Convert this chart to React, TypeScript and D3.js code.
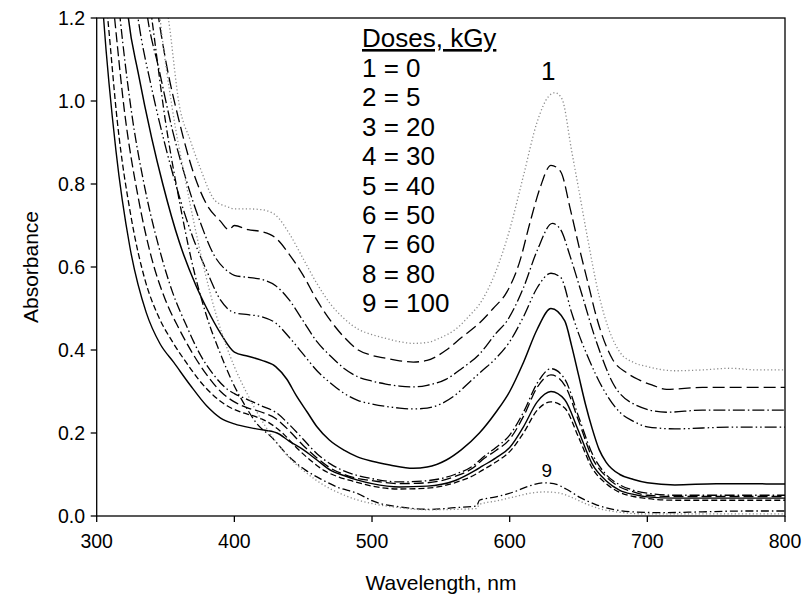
import React from "react";
import * as d3 from "d3";

type Pt = [number, number];

// Wavelength (nm) vs absorbance
const trace01: Pt[] = [[345,1.32],[352,1.2],[360,0.99],[368,0.905],[375,0.84],[386,0.76],[395,0.745],[400,0.74],[410,0.74],[420,0.738],[430,0.725],[440,0.68],[450,0.62],[460,0.56],[470,0.51],[480,0.475],[490,0.45],[500,0.437],[510,0.428],[520,0.42],[530,0.416],[540,0.418],[550,0.43],[560,0.448],[570,0.48],[580,0.52],[590,0.59],[600,0.69],[610,0.82],[620,0.95],[628,1.01],[633,1.02],[638,1.005],[645,0.88],[650,0.79],[656,0.68],[665,0.53],[672,0.45],[680,0.395],[690,0.37],[700,0.36],[720,0.35],[740,0.352],[760,0.356],[780,0.352],[800,0.352]];
const trace02: Pt[] = [[341,1.3],[345,1.2],[350,1.1],[360,0.95],[370,0.83],[380,0.75],[390,0.71],[396,0.69],[400,0.7],[410,0.69],[420,0.685],[430,0.67],[440,0.63],[450,0.58],[460,0.52],[470,0.47],[480,0.43],[490,0.4],[500,0.387],[510,0.38],[520,0.374],[530,0.371],[540,0.375],[554,0.4],[565,0.43],[578,0.465],[588,0.5],[598,0.54],[607,0.61],[615,0.71],[622,0.79],[630,0.845],[637,0.83],[644,0.74],[651,0.64],[657,0.56],[663,0.48],[675,0.376],[685,0.345],[694,0.328],[704,0.315],[714,0.305],[740,0.31],[770,0.31],[800,0.31]];
const trace03: Pt[] = [[333,1.3],[337,1.2],[345,1.08],[355,0.93],[365,0.81],[375,0.71],[385,0.63],[395,0.59],[400,0.58],[410,0.575],[420,0.57],[430,0.555],[440,0.52],[450,0.47],[460,0.42],[470,0.385],[480,0.355],[490,0.335],[500,0.325],[510,0.318],[520,0.313],[530,0.311],[540,0.315],[554,0.33],[565,0.355],[578,0.39],[590,0.44],[598,0.47],[610,0.55],[620,0.64],[631,0.705],[637,0.69],[644,0.625],[651,0.55],[663,0.42],[675,0.32],[690,0.27],[714,0.25],[740,0.255],[770,0.255],[800,0.255]];
const trace04: Pt[] = [[326,1.3],[330,1.2],[340,1.03],[350,0.89],[360,0.77],[370,0.67],[380,0.59],[390,0.52],[400,0.49],[410,0.485],[420,0.48],[430,0.465],[440,0.43],[450,0.39],[460,0.35],[470,0.32],[480,0.295],[490,0.278],[500,0.27],[510,0.264],[520,0.26],[530,0.258],[540,0.26],[550,0.27],[560,0.29],[570,0.32],[580,0.35],[590,0.38],[600,0.42],[610,0.48],[620,0.55],[630,0.585],[637,0.575],[645,0.49],[650,0.44],[656,0.39],[669,0.3],[680,0.25],[690,0.228],[700,0.215],[720,0.21],[760,0.214],[800,0.214]];
const trace05: Pt[] = [[320,1.3],[323,1.2],[330,1.07],[340,0.91],[348,0.8],[360,0.66],[372,0.556],[380,0.5],[390,0.44],[400,0.395],[410,0.385],[420,0.375],[430,0.36],[438,0.33],[445,0.29],[453,0.25],[460,0.215],[469,0.183],[480,0.158],[489,0.143],[500,0.132],[513,0.123],[530,0.115],[540,0.118],[554,0.135],[565,0.16],[578,0.2],[590,0.25],[600,0.3],[610,0.37],[620,0.45],[630,0.5],[640,0.47],[645,0.41],[650,0.34],[655,0.27],[660,0.21],[665,0.16],[670,0.13],[680,0.1],[690,0.088],[700,0.08],[720,0.075],[750,0.078],[800,0.077]];
const trace06: Pt[] = [[314,1.3],[317,1.2],[325,0.98],[335,0.79],[345,0.65],[355,0.54],[365,0.46],[375,0.39],[385,0.34],[395,0.305],[400,0.295],[410,0.28],[420,0.265],[430,0.25],[440,0.22],[450,0.185],[460,0.15],[470,0.125],[480,0.108],[490,0.097],[500,0.09],[520,0.082],[540,0.085],[560,0.1],[575,0.125],[580,0.14],[590,0.165],[600,0.195],[610,0.25],[620,0.32],[630,0.355],[640,0.33],[650,0.24],[660,0.15],[670,0.1],[680,0.075],[690,0.062],[700,0.055],[720,0.05],[800,0.05]];
const trace07: Pt[] = [[310,1.3],[313,1.2],[320,0.98],[330,0.77],[340,0.62],[350,0.52],[360,0.45],[370,0.39],[380,0.34],[390,0.3],[400,0.275],[410,0.26],[420,0.25],[430,0.235],[440,0.205],[450,0.17],[460,0.14],[470,0.115],[480,0.1],[490,0.09],[500,0.085],[520,0.078],[540,0.08],[560,0.095],[575,0.12],[580,0.135],[590,0.158],[600,0.185],[610,0.24],[620,0.31],[630,0.34],[640,0.315],[650,0.23],[660,0.14],[670,0.095],[680,0.07],[690,0.058],[700,0.05],[720,0.047],[800,0.047]];
const trace08: Pt[] = [[302,1.35],[305,1.2],[314,0.88],[324,0.65],[336,0.49],[346,0.415],[356,0.37],[368,0.315],[380,0.265],[390,0.236],[400,0.222],[416,0.21],[431,0.2],[440,0.18],[450,0.16],[460,0.135],[470,0.11],[480,0.097],[489,0.087],[500,0.078],[520,0.07],[540,0.072],[560,0.085],[575,0.11],[580,0.12],[590,0.14],[600,0.165],[610,0.215],[620,0.275],[630,0.3],[640,0.28],[650,0.205],[660,0.125],[670,0.085],[680,0.062],[690,0.052],[700,0.046],[720,0.043],[800,0.043]];
const trace09: Pt[] = [[305,1.3],[308,1.2],[315,0.95],[325,0.72],[335,0.57],[345,0.48],[355,0.42],[365,0.37],[375,0.325],[385,0.29],[395,0.265],[405,0.25],[415,0.24],[425,0.225],[435,0.2],[445,0.165],[455,0.135],[465,0.11],[475,0.095],[485,0.085],[500,0.072],[520,0.065],[540,0.067],[560,0.08],[575,0.1],[580,0.11],[590,0.13],[600,0.155],[610,0.2],[620,0.255],[630,0.275],[640,0.26],[650,0.19],[660,0.115],[670,0.078],[680,0.057],[690,0.047],[700,0.042],[720,0.038],[800,0.038]];
const trace10: Pt[] = [[336,1.3],[340,1.2],[350,0.95],[360,0.76],[370,0.6],[380,0.48],[390,0.39],[399,0.32],[408,0.265],[416,0.224],[427,0.19],[440,0.142],[452,0.11],[464,0.087],[476,0.068],[489,0.055],[500,0.037],[506,0.03],[520,0.022],[542,0.016],[560,0.02],[576,0.024],[578,0.038],[590,0.046],[603,0.058],[614,0.072],[624,0.08],[632,0.078],[641,0.065],[651,0.045],[663,0.027],[675,0.016],[690,0.01],[711,0.008],[740,0.01],[770,0.012],[800,0.012]];
const trace11: Pt[] = [[343,1.3],[346,1.2],[355,0.98],[365,0.8],[375,0.64],[383,0.53],[390,0.45],[400,0.36],[410,0.29],[420,0.23],[430,0.18],[440,0.14],[450,0.11],[460,0.085],[470,0.065],[480,0.05],[490,0.038],[500,0.03],[520,0.02],[540,0.015],[560,0.016],[576,0.018],[578,0.028],[590,0.036],[603,0.046],[615,0.055],[625,0.058],[635,0.056],[645,0.045],[655,0.03],[665,0.018],[680,0.009],[700,0.005],[750,0.005],[800,0.005]];

const traces: Pt[][] = [trace01, trace02, trace03, trace04, trace05, trace06, trace07, trace08, trace09, trace10, trace11];

const legendTitle = "Doses, kGy";
const legendLines = ["1 = 0", "2 = 5", "3 = 20", "4 = 30", "5 = 40", "6 = 50", "7 = 60", "8 = 80", "9 = 100"];
const xTicks = [300, 400, 500, 600, 700, 800];
const yTicks = [0, 0.2, 0.4, 0.6, 0.8, 1.0, 1.2];

const lineStyles = [
  { dash: "1.2,2.4", color: "#8a8a8a", width: 1.3 },
  { dash: "12,5", color: "#000", width: 1.3 },
  { dash: "12,3,1.5,3", color: "#000", width: 1.3 },
  { dash: "12,3,1.5,3,1.5,3", color: "#000", width: 1.3 },
  { dash: "none", color: "#000", width: 1.5 },
  { dash: "10,3,1.5,3", color: "#000", width: 1.3 },
  { dash: "10,4", color: "#000", width: 1.3 },
  { dash: "none", color: "#000", width: 1.4 },
  { dash: "6,3", color: "#000", width: 1.3 },
  { dash: "8,3,1.5,3", color: "#000", width: 1.3 },
  { dash: "1.2,2.4", color: "#8a8a8a", width: 1.3 },
];

const FONT = "'Liberation Sans', Arial, Helvetica, sans-serif";

export default function App() {
  const left = 96.7, right = 785, top = 18, bottom = 516;
  const x = d3.scaleLinear().domain([300, 800]).range([left, right]);
  const y = d3.scaleLinear().domain([0, 1.2]).range([bottom, top]);
  const line = d3
    .line<Pt>()
    .x((d) => x(d[0]))
    .y((d) => y(d[1]))
    .curve(d3.curveMonotoneX);

  return (
    <svg
      width={803}
      height={601}
      style={{ position: "absolute", left: 0, top: 0, display: "block", background: "#fff" }}
      fontFamily={FONT}
    >
      <defs>
        <clipPath id="plotClip">
          <rect x={left} y={top} width={right - left} height={bottom - top} />
        </clipPath>
      </defs>
      <rect x={0} y={0} width={803} height={601} fill="#fff" />
      <g clipPath="url(#plotClip)">
        {traces.map((t, i) => (
          <path
            key={i}
            d={line(t) || ""}
            fill="none"
            stroke={lineStyles[i].color}
            strokeWidth={lineStyles[i].width}
            strokeDasharray={lineStyles[i].dash}
          />
        ))}
      </g>
      <rect x={left} y={top} width={right - left} height={bottom - top} fill="none" stroke="#000" strokeWidth={1.3} />
      {xTicks.map((t) => (
        <g key={"x" + t}>
          <line x1={x(t)} x2={x(t)} y1={bottom} y2={bottom + 6} stroke="#000" strokeWidth={1.3} />
          <text x={x(t)} y={548} textAnchor="middle" fontSize={19.5} fill="#000">
            {t}
          </text>
        </g>
      ))}
      {yTicks.map((t) => (
        <g key={"y" + t}>
          <line x1={left - 6} x2={left} y1={y(t)} y2={y(t)} stroke="#000" strokeWidth={1.3} />
          <text x={85} y={y(t) + 7} textAnchor="end" fontSize={19.5} fill="#000">
            {t.toFixed(1)}
          </text>
        </g>
      ))}
      <text x={441} y={590} textAnchor="middle" fontSize={21} fill="#000">
        Wavelength, nm
      </text>
      <text transform="translate(38,267) rotate(-90)" textAnchor="middle" fontSize={21} fill="#000">
        Absorbance
      </text>
      <text x={362} y={47} fontSize={26} fill="#000" textDecoration="underline">
        {legendTitle}
      </text>
      {legendLines.map((s, i) => (
        <text key={s} x={362} y={77 + i * 29.4} fontSize={26} fill="#000">
          {s}
        </text>
      ))}
      <text x={x(628)} y={80} textAnchor="middle" fontSize={26} fill="#000">
        1
      </text>
      <text x={x(627)} y={477} textAnchor="middle" fontSize={19} fill="#000">
        9
      </text>
    </svg>
  );
}
